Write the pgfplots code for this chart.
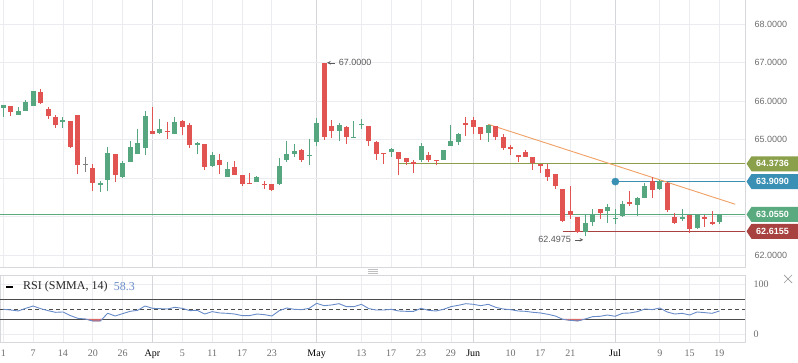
\documentclass[border=0pt]{standalone}
\usepackage{pgfplots}
\pgfplotsset{compat=1.18}
\usepackage{pgfplotstable}
\usepackage{fontspec}
\setmainfont{Liberation Serif}
\newfontfamily\sansf{Liberation Sans}
\definecolor{upc}{RGB}{86,167,128}
\definecolor{dnc}{RGB}{226,84,82}
\definecolor{dojic}{RGB}{128,128,128}
\definecolor{gridc}{RGB}{234,236,239}
\definecolor{gridm}{RGB}{212,214,217}
\definecolor{borderc}{RGB}{214,216,219}
\definecolor{olivec}{RGB}{139,160,74}
\definecolor{bluec}{RGB}{58,143,180}
\definecolor{greenc}{RGB}{90,170,128}
\definecolor{darkredc}{RGB}{168,66,64}
\definecolor{trendc}{RGB}{240,160,100}
\definecolor{rsic}{RGB}{104,140,200}
\definecolor{rsired}{RGB}{215,105,105}
\definecolor{tickc}{RGB}{110,110,110}
\definecolor{annc}{RGB}{90,90,90}

% up candles: index open high low close
\pgfplotstableread{
i o h l c
0 65.83 65.91 65.59 65.91
2 65.65 65.84 65.65 65.74
3 65.75 66.03 65.75 65.97
4 65.87 66.28 65.87 66.26
8 65.47 65.59 65.31 65.51
13 63.84 63.93 63.63 63.87
14 63.96 64.82 63.67 64.66
16 64.04 64.45 63.99 64.40
17 64.41 64.97 64.41 64.82
18 64.64 65.28 64.64 64.91
19 64.79 65.74 64.59 65.61
21 65.18 65.53 65.16 65.28
23 65.16 65.59 65.16 65.46
26 64.85 64.95 64.64 64.92
28 64.31 64.69 64.29 64.60
30 64.04 64.42 64.04 64.24
34 63.89 64.06 63.89 64.03
37 63.85 64.53 63.83 64.32
38 64.48 64.97 64.43 64.63
39 64.64 64.89 64.56 64.71
41 64.59 65.01 64.33 64.60
42 64.95 65.57 64.83 65.43
45 65.23 65.43 64.97 65.38
47 65.05 65.48 65.05 65.08
48 65.38 65.53 65.28 65.41
52 64.69 64.78 64.56 64.76
56 64.48 64.91 64.43 64.84
59 64.48 64.74 64.48 64.72
60 64.84 65.38 64.84 64.97
61 64.94 65.18 64.87 65.16
65 65.18 65.38 64.95 65.38
78 62.61 63.04 62.4975 62.82
79 62.87 63.21 62.75 63.04
81 63.15 63.33 62.82 63.25
82 62.94 63.21 62.80 62.97
83 63.02 63.40 63.00 63.32
85 63.31 63.52 63.02 63.48
86 63.49 63.86 63.49 63.79
88 63.73 63.95 63.69 63.92
91 62.93 63.20 62.88 63.00
93 62.70 63.08 62.67 63.06
96 62.87 63.08 62.81 63.06
}\upT

% down candles
\pgfplotstableread{
i o h l c
1 65.87 65.87 65.62 65.72
5 66.23 66.31 65.93 65.96
6 65.79 65.86 65.54 65.63
7 65.60 65.63 65.31 65.39
9 65.48 65.48 64.79 64.82
10 65.64 65.64 64.12 64.35
12 64.27 64.36 63.66 63.87
15 64.63 64.63 63.91 64.07
20 65.22 65.84 65.16 65.16
22 65.22 65.46 65.03 65.21
24 65.48 65.51 65.13 65.34
25 65.38 65.43 64.79 64.87
27 64.89 64.89 64.20 64.28
29 64.47 64.63 64.12 64.35
31 64.29 64.45 64.07 64.09
32 64.09 64.09 63.79 63.84
33 63.88 64.14 63.86 63.86
35 63.86 63.93 63.73 63.81
36 63.84 63.86 63.66 63.68
40 64.73 64.76 64.41 64.46
43 67.00 67.00 65.00 65.08
44 65.35 65.51 65.05 65.23
46 65.34 65.35 64.90 65.08
49 65.35 65.35 64.84 64.97
50 64.95 64.97 64.48 64.64
51 64.66 64.66 64.38 64.64
53 64.68 64.68 64.09 64.51
54 64.53 64.53 64.33 64.41
55 64.42 64.46 64.13 64.37
57 64.59 64.68 64.41 64.46
58 64.48 64.48 64.34 64.46
62 65.43 65.59 65.10 65.41
63 65.51 65.59 65.16 65.33
64 65.33 65.33 65.00 65.16
66 65.35 65.35 65.00 65.08
67 65.07 65.16 64.73 64.79
68 64.82 64.86 64.61 64.77
69 64.61 64.61 64.43 64.56
70 64.69 64.74 64.55 64.56
71 64.56 64.56 64.22 64.40
72 64.38 64.38 64.14 64.33
73 64.24 64.38 63.92 64.04
74 64.11 64.11 63.71 63.79
75 63.72 63.72 62.87 62.89
76 63.14 63.79 62.93 63.03
77 63.00 63.00 62.56 62.60
80 63.19 63.21 62.94 63.08
84 63.37 63.66 63.27 63.33
87 63.92 64.02 63.49 63.69
89 63.86 63.91 63.13 63.17
90 63.00 63.08 62.80 62.82
92 63.04 63.04 62.56 62.68
94 63.00 63.03 62.74 62.94
95 62.86 63.14 62.77 62.81
}\dnT

% unchanged candle
\pgfplotstableread{
i o h l c
11 64.36 64.55 64.17 64.36
}\dojiT

% RSI values
\pgfplotstableread{
i r
0 49.6
1 48.3
2 46.3
3 51.6
4 56.3
5 51.0
6 47.0
7 43.6
8 44.3
9 37.0
10 31.5
11 30.2
12 26.2
13 26.2
14 41.6
15 36.2
16 41.0
17 45.6
18 47.6
19 56.3
20 51.6
21 51.0
22 50.3
23 53.7
24 51.6
25 47.0
26 47.6
27 40.2
28 45.0
29 42.3
30 41.6
31 40.2
32 37.0
33 37.0
34 40.2
35 38.9
36 36.2
37 47.0
38 52.3
39 49.6
40 49.0
41 51.6
42 61.7
43 57.0
44 58.4
45 61.0
46 55.0
47 55.0
48 59.7
49 51.0
50 48.3
51 48.3
52 49.6
53 46.3
54 45.6
55 45.6
56 51.6
57 47.6
58 46.3
59 49.6
60 55.0
61 57.7
62 61.0
63 59.7
64 57.0
65 59.7
66 53.7
67 50.3
68 49.0
69 46.3
70 45.6
71 43.6
72 42.3
73 39.6
74 36.2
75 29.5
76 27.5
77 26.2
78 30.2
79 34.9
80 35.6
81 38.2
82 35.6
83 41.6
84 42.3
85 45.0
86 50.3
87 49.0
88 52.3
89 44.3
90 40.2
91 41.6
92 38.2
93 44.3
94 43.0
95 41.6
96 46.3
}\rsiT

% price tag drawn in page coordinates (y in pt)
\newcommand\pricetag[3]{%
  \fill[#1] (746.5pt,#2pt) -- ++(5pt,7.5pt) -- (798pt,#2pt+7.5pt) -- (798pt,#2pt-7.5pt) -- ++(-46.5pt,0pt) -- cycle;
  \node[font=\sansf\bfseries\fontsize{9}{10}\selectfont, text=white, inner sep=0pt] at (772.5pt,#2pt) {#3};
}

\pgfplotsset{
  wick/.style={draw=none, mark=none, error bars/.cd, y dir=both, y explicit, error mark=none,
    error bar style={draw=#1, solid, line width=1pt}},
  body/.style={draw=none, mark=none, error bars/.cd, y dir=both, y explicit, error mark=none,
    error bar style={draw=#1, solid, line width=5pt}},
}

\begin{document}
\begin{tikzpicture}
\useasboundingbox (0,0) rectangle (798pt,363pt);
\fill[white] (0,0) rectangle (798pt,363pt);

% ===== main price panel =====
\begin{axis}[
  at={(0pt,96pt)}, anchor=south west, scale only axis,
  width=745pt, height=267pt,
  xmin=-0.442, xmax=99.42, ymin=61.687, ymax=68.635,
  axis line style={draw=none},
  xtick={0,4,8,12,16,24,28,32,36,48,52,56,60,68,72,76,88,92,96},
  xticklabels={},
  minor xtick={20,42,63,82},
  xmajorgrids, xminorgrids, ymajorgrids,
  grid style={gridc, line width=0.8pt},
  minor grid style={gridm, line width=0.8pt},
  ytick={62,63,64,65,66,67,68},
  yticklabels={62.0000,,,65.0000,66.0000,67.0000,68.0000},
  yticklabel pos=right,
  yticklabel style={font=\sansf\fontsize{9}{10}\selectfont, text=tickc, anchor=west, xshift=6pt},
  major tick length=0pt, minor tick length=0pt,
  clip=false,
]
\draw[borderc, line width=0.8pt] (rel axis cs:0,0) -- (rel axis cs:1,0) -- (rel axis cs:1,1);

% horizontal levels
\addplot[greenc, line width=0.9pt] coordinates {(-0.442,63.055) (99.42,63.055)};
\addplot[olivec, line width=0.9pt] coordinates {(53,64.3736) (99.42,64.3736)};
\addplot[bluec, line width=0.9pt] coordinates {(82.04,63.909) (99.42,63.909)};
\addplot[darkredc, line width=0.9pt] coordinates {(75,62.6155) (99.42,62.6155)};
\addplot[trendc, line width=0.9pt] coordinates {(65,65.40) (98.1,63.32)};

% candles
\addplot[wick=upc] table[x=i, y expr={(\thisrow{h}+\thisrow{l})/2}, y error expr={(\thisrow{h}-\thisrow{l})/2}] {\upT};
\addplot[wick=dnc] table[x=i, y expr={(\thisrow{h}+\thisrow{l})/2}, y error expr={(\thisrow{h}-\thisrow{l})/2}] {\dnT};
\addplot[wick=dojic] table[x=i, y expr={(\thisrow{h}+\thisrow{l})/2}, y error expr={(\thisrow{h}-\thisrow{l})/2}] {\dojiT};
\addplot[body=upc] table[x=i, y expr={(\thisrow{o}+\thisrow{c})/2}, y error expr={max(abs(\thisrow{o}-\thisrow{c})/2,0.013)}] {\upT};
\addplot[body=dnc] table[x=i, y expr={(\thisrow{o}+\thisrow{c})/2}, y error expr={max(abs(\thisrow{o}-\thisrow{c})/2,0.013)}] {\dnT};
\addplot[body=dojic] table[x=i, y expr={(\thisrow{o}+\thisrow{c})/2}, y error expr={max(abs(\thisrow{o}-\thisrow{c})/2,0.013)}] {\dojiT};

\addplot[only marks, mark=*, mark size=3.6pt, mark options={fill=bluec, draw=bluec}] coordinates {(82.04,63.909)};

% annotations
\draw[annc, line width=0.6pt, ->, >=stealth] ([xshift=11pt]axis cs:43,67) -- ([xshift=3pt]axis cs:43,67);
\node[anchor=west, inner sep=0pt, font=\sansf\fontsize{9}{10}\selectfont, text=annc] at ([xshift=14.5pt]axis cs:43,67) {67.0000};
\draw[annc, line width=0.6pt, ->, >=stealth] ([xshift=-10pt,yshift=-4pt]axis cs:78,62.4975) -- ([xshift=-2pt,yshift=-4pt]axis cs:78,62.4975);
\node[anchor=east, inner sep=0pt, font=\sansf\fontsize{9}{10}\selectfont, text=annc] at ([xshift=-14pt,yshift=-4pt]axis cs:78,62.4975) {62.4975};
\end{axis}

% price tags on the right scale (64.3736, 63.9090, 63.0550, 62.6155)
\pricetag{olivec}{199.24}{64.3736}
\pricetag{bluec}{181.39}{63.9090}
\pricetag{greenc}{148.57}{63.0550}
\pricetag{darkredc}{131.68}{62.6155}

% ===== RSI panel =====
\begin{axis}[
  at={(0pt,21pt)}, anchor=south west, scale only axis,
  width=745pt, height=67pt,
  xmin=-0.442, xmax=99.42, ymin=-16.1, ymax=118.7,
  axis line style={draw=none},
  xtick={0,4,8,12,16,24,28,32,36,48,52,56,60,68,72,76,88,92,96},
  xticklabels={1,7,14,20,26,5,11,17,23,13,17,23,29,10,17,21,9,15,19},
  extra x ticks={20,42,63,82},
  extra x tick labels={\textcolor{black}{Apr},\textcolor{black}{May},\textcolor{black}{Jun},\textcolor{black}{Jul}},
  extra x tick style={grid style={gridm, line width=0.8pt}},
  xmajorgrids, ymajorgrids,
  grid style={gridc, line width=0.8pt},
  ytick={0,100},
  yticklabel pos=right,
  /pgf/number format/assume math mode=true,
  yticklabel style={font=\fontsize{10}{12}\selectfont, text=tickc, anchor=west, xshift=5pt},
  xticklabel style={font=\fontsize{10}{12}\selectfont, text=tickc, anchor=base, yshift=-15pt},
  major tick length=0pt,
  clip=false,
]
\draw[borderc, line width=0.8pt] (rel axis cs:0,0) rectangle (rel axis cs:1,1);
\addplot[black!70, line width=0.8pt] coordinates {(-0.442,70) (99.42,70)};
\addplot[black!70, line width=0.8pt] coordinates {(-0.442,30) (99.42,30)};
\addplot[black!70, line width=0.8pt, dash pattern=on 4pt off 3pt] coordinates {(-0.442,50) (99.42,50)};
\addplot[fill=rsired, draw=rsired, line width=0.6pt] coordinates {(11.05,30) (12,26.2) (13,26.2) (13.25,30)} -- cycle;
\addplot[fill=rsired, draw=rsired, line width=0.6pt] coordinates {(74.93,30) (75,29.5) (76,27.5) (77,26.2) (77.95,30)} -- cycle;
\addplot[rsic, line width=0.9pt] table[x=i, y=r] {\rsiT};
\end{axis}

% legend of RSI panel
\draw[black, line width=2pt] (6pt,76.3pt) -- (13pt,76.3pt);
\node[anchor=west, inner sep=0pt, font=\fontsize{12}{14}\selectfont, text=black!85] (rl) at (23pt,76.3pt) {RSI (SMMA, 14)};
\node[anchor=west, inner sep=0pt, font=\fontsize{12}{14}\selectfont, text=rsic] at ([xshift=6pt]rl.east) {58.3};

% panel handle and close mark
\foreach \yy in {89.7,91.7,93.7} \draw[gray!50, line width=0.6pt] (368pt,\yy pt) -- (378pt,\yy pt);
\draw[gray!80, line width=0.7pt] (784pt,80pt) -- (792pt,88pt) (784pt,88pt) -- (792pt,80pt);
\end{tikzpicture}
\end{document}
